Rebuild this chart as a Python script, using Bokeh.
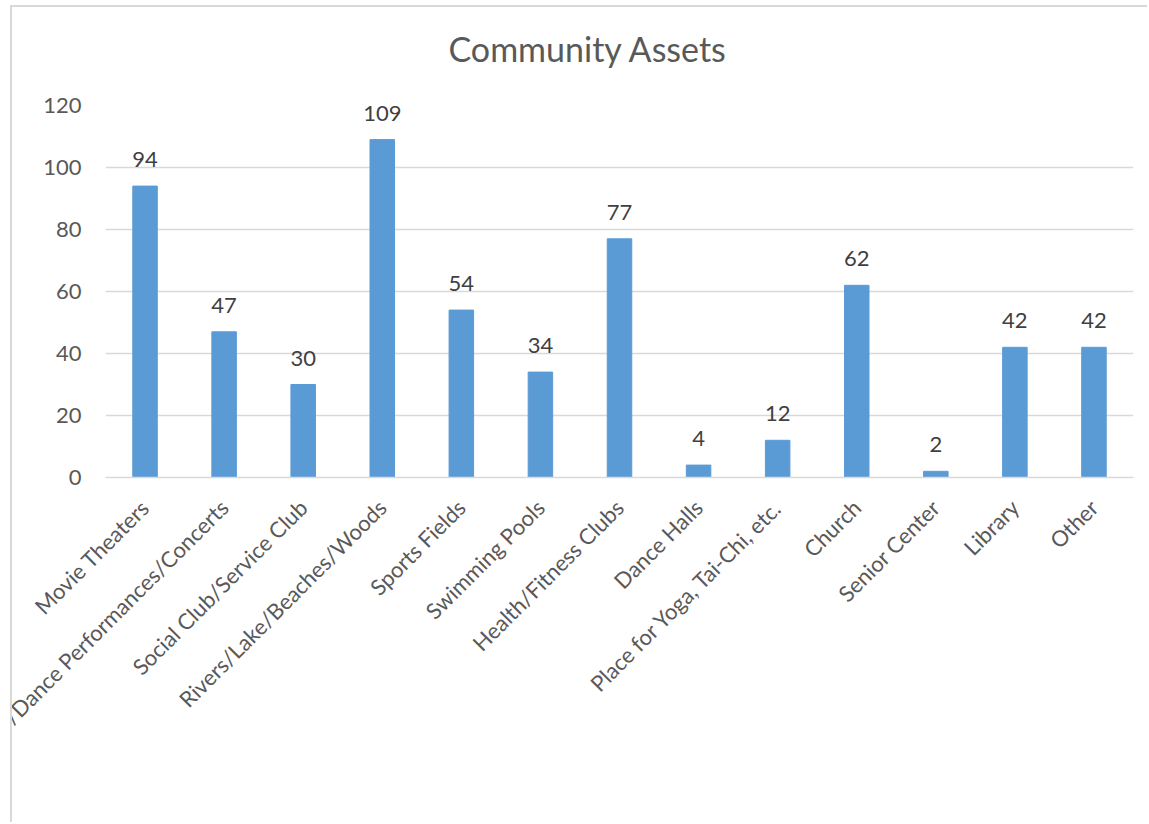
import math
from bokeh.plotting import figure
from bokeh.models import ColumnDataSource, LabelSet, Title, Range1d, FactorRange, FixedTicker
from bokeh.core.properties import value
from bokeh.embed import file_html
from bokeh.resources import INLINE

categories = ["Movie Theaters", "/Dance Performances/Concerts", "Social Club/Service Club",
              "Rivers/Lake/Beaches/Woods", "Sports Fields", "Swimming Pools",
              "Health/Fitness Clubs", "Dance Halls", "Place for Yoga, Tai-Chi, etc.",
              "Church", "Senior Center", "Library", "Other"]
values = [94, 47, 30, 109, 54, 34, 77, 4, 12, 62, 2, 42, 42]
y_ticks = [0, 20, 40, 60, 80, 100, 120]
title_text = "Community Assets"

FONT = "Lato"
BAR = "#5B9BD5"
GRID = "#D9D9D9"
TXT = "#595959"

src = ColumnDataSource(dict(cat=categories, val=values, lab=[str(v) for v in values]))

p = figure(x_range=FactorRange(*categories, range_padding=0), y_range=Range1d(0, 120),
           width=1137, height=817, output_backend="svg", toolbar_location=None,
           min_border_left=93, min_border_right=16, min_border_top=98, min_border_bottom=347)
p.styles = {"border-left": "2px solid #D9D9D9", "border-top": "2px solid #D9D9D9",
            "margin-left": "10px", "margin-top": "5px"}

p.vbar(x="cat", top="val", width=0.31, source=src, fill_color=BAR, line_color=BAR)

labels = LabelSet(x="cat", y="val", text="lab", source=src, text_align="center",
                  text_baseline="alphabetic", y_offset=19, text_font=value(FONT),
                  text_font_size="22px", text_color="#404040")
p.add_layout(labels)

spacer = Title(text=" ", text_font_size="10px", standoff=24)
main_title = Title(text=title_text, align="left", offset=343, standoff=0,
                   text_font=FONT, text_font_size="34px", text_font_style="normal",
                   text_color=TXT)
p.add_layout(spacer, "above")
p.add_layout(main_title, "above")

p.outline_line_color = None
p.xgrid.grid_line_color = None
p.ygrid.grid_line_color = GRID
p.ygrid.grid_line_width = 1.5
p.yaxis.ticker = FixedTicker(ticks=y_ticks)
p.yaxis.axis_line_color = None
p.yaxis.major_tick_line_color = None
p.yaxis.minor_tick_line_color = None
p.yaxis.major_label_standoff = 18
p.yaxis.major_label_text_font = FONT
p.yaxis.major_label_text_font_size = "22px"
p.yaxis.major_label_text_color = TXT

p.xaxis.axis_line_color = GRID
p.xaxis.axis_line_width = 1.5
p.xaxis.major_tick_line_color = None
p.xaxis.minor_tick_line_color = None
p.xaxis.major_label_orientation = math.pi / 4
p.xaxis.major_label_standoff = 20
p.xaxis.major_label_text_font = FONT
p.xaxis.major_label_text_font_size = "22px"
p.xaxis.major_label_text_color = TXT

open("out.html", "w").write(file_html(p, INLINE))
